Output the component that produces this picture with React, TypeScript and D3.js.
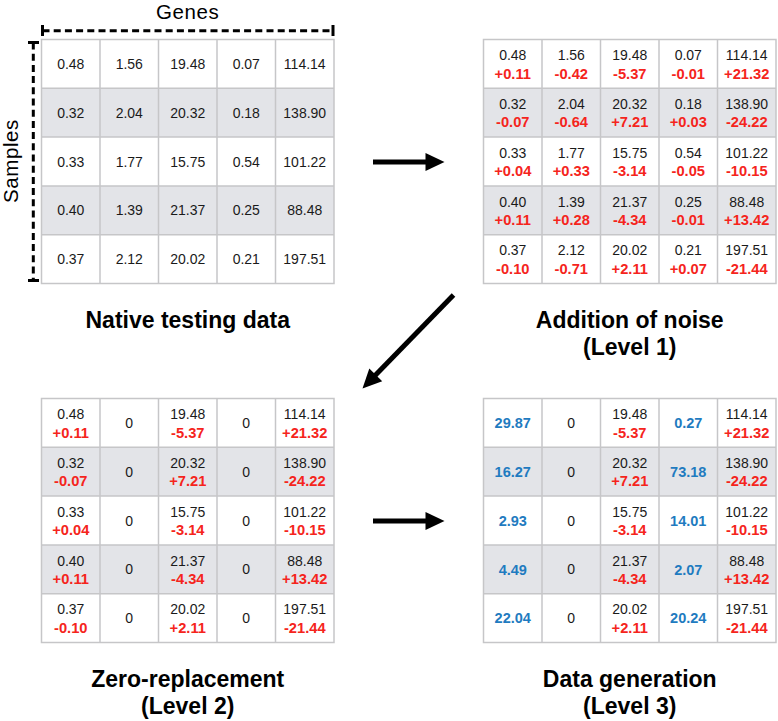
import React from "react";
import * as d3 from "d3";

const genes = ["G1", "G2", "G3", "G4", "G5"];
const samples = ["S1", "S2", "S3", "S4", "S5"];

const nativeValues: number[][] = [
  [0.48, 1.56, 19.48, 0.07, 114.14],
  [0.32, 2.04, 20.32, 0.18, 138.9],
  [0.33, 1.77, 15.75, 0.54, 101.22],
  [0.4, 1.39, 21.37, 0.25, 88.48],
  [0.37, 2.12, 20.02, 0.21, 197.51],
];

const noiseValues: number[][] = [
  [0.11, -0.42, -5.37, -0.01, 21.32],
  [-0.07, -0.64, 7.21, 0.03, -24.22],
  [0.04, 0.33, -3.14, -0.05, -10.15],
  [0.11, 0.28, -4.34, -0.01, 13.42],
  [-0.1, -0.71, 2.11, 0.07, -21.44],
];

const zeroColumns = [1, 3];

const generatedColumns = [0, 3];
const generatedValues: number[][] = [
  [29.87, 0.27],
  [16.27, 73.18],
  [2.93, 14.01],
  [4.49, 2.07],
  [22.04, 20.24],
];

const panelTitles = [
  ["Native testing data"],
  ["Addition of noise", "(Level 1)"],
  ["Zero-replacement", "(Level 2)"],
  ["Data generation", "(Level 3)"],
];

const FONT = "'Liberation Sans', Arial, Helvetica, sans-serif";
const BLACK = "#1a1a1a";
const RED = "#f5241c";
const BLUE = "#1f7bc0";
const GRID = "#c6c6c8";
const SHADE = "#e3e4e8";

const TW = 292.5;
const TH = 244;

type Cell = { lines: { text: string; color: string; bold: boolean }[] };

function fmt(v: number) {
  return v.toFixed(2);
}
function fmtSigned(v: number) {
  return (v >= 0 ? "+" : "-") + Math.abs(v).toFixed(2);
}

function buildCells(level: number): Cell[][] {
  return samples.map((_, r) =>
    genes.map((_, c) => {
      if (level >= 3 && generatedColumns.includes(c)) {
        const gi = generatedColumns.indexOf(c);
        return { lines: [{ text: fmt(generatedValues[r][gi]), color: BLUE, bold: true }] };
      }
      if (level >= 2 && zeroColumns.includes(c)) {
        return { lines: [{ text: "0", color: BLACK, bold: false }] };
      }
      if (level >= 1) {
        return {
          lines: [
            { text: fmt(nativeValues[r][c]), color: BLACK, bold: false },
            { text: fmtSigned(noiseValues[r][c]), color: RED, bold: true },
          ],
        };
      }
      return { lines: [{ text: fmt(nativeValues[r][c]), color: BLACK, bold: false }] };
    })
  );
}

function Table({ x0, y0, level, title }: { x0: number; y0: number; level: number; title: string[] }) {
  const xs = d3.scaleBand<string>().domain(genes).range([x0, x0 + TW]);
  const ys = d3.scaleBand<string>().domain(samples).range([y0, y0 + TH]);
  const cells = buildCells(level);
  const bw = xs.bandwidth();
  const bh = ys.bandwidth();
  return (
    <g>
      {samples.map((s, r) => (
        <rect key={"bg" + s} x={x0} y={ys(s)!} width={TW} height={bh} fill={r % 2 === 1 ? SHADE : "#ffffff"} />
      ))}
      {genes.map((g, i) =>
        i === 0 ? null : (
          <line key={"vl" + g} x1={xs(g)!} x2={xs(g)!} y1={y0} y2={y0 + TH} stroke={GRID} strokeWidth={1.5} />
        )
      )}
      {samples.map((s, i) =>
        i === 0 ? null : (
          <line key={"hl" + s} x1={x0} x2={x0 + TW} y1={ys(s)!} y2={ys(s)!} stroke={GRID} strokeWidth={1.5} />
        )
      )}
      <rect x={x0} y={y0} width={TW} height={TH} fill="none" stroke={GRID} strokeWidth={1.5} />
      {samples.map((s, r) =>
        genes.map((g, c) => {
          const cell = cells[r][c];
          const cx = xs(g)! + bw / 2;
          const cy = ys(s)! + bh / 2;
          if (cell.lines.length === 1) {
            const l = cell.lines[0];
            return (
              <text key={s + g} x={cx} y={cy} dy="0.36em" textAnchor="middle" fontFamily={FONT} fontSize={l.bold ? 14.5 : 14}
                fill={l.color} fontWeight={l.bold ? "bold" : "normal"}>
                {l.text}
              </text>
            );
          }
          return (
            <g key={s + g}>
              {cell.lines.map((l, k) => (
                <text key={k} x={cx} y={cy + (k === 0 ? -8.8 : 9.4)} dy="0.36em" textAnchor="middle" fontFamily={FONT}
                  fontSize={l.bold ? 14.7 : 14} fill={l.color} fontWeight={l.bold ? "bold" : "normal"}>
                  {l.text}
                </text>
              ))}
            </g>
          );
        })
      )}
      {title.map((t, i) => (
        <text key={t} x={x0 + TW / 2} y={y0 + TH + 44.5 + i * 27} textAnchor="middle" fontFamily={FONT}
          fontSize={23} fontWeight="bold" fill="#000">
          {t}
        </text>
      ))}
    </g>
  );
}

function Arrow({ x1, y1, x2, y2 }: { x1: number; y1: number; x2: number; y2: number }) {
  const dx = x2 - x1;
  const dy = y2 - y1;
  const len = Math.sqrt(dx * dx + dy * dy);
  const ux = dx / len;
  const uy = dy / len;
  const hl = 19;
  const hw = 9;
  const bx = x2 - ux * hl;
  const by = y2 - uy * hl;
  const px = -uy;
  const py = ux;
  const pts = [
    [x2, y2],
    [bx + px * hw, by + py * hw],
    [bx - px * hw, by - py * hw],
  ];
  return (
    <g>
      <line x1={x1} y1={y1} x2={bx + ux * 2} y2={by + uy * 2} stroke="#000" strokeWidth={5} />
      <polygon points={pts.map((p) => p.join(",")).join(" ")} fill="#000" />
    </g>
  );
}

export default function App() {
  const W = 778;
  const H = 721;
  const L = 41.5;
  const R = 483.5;
  const T = 39.5;
  const B = 398.5;
  return (
    <div style={{ position: "absolute", left: 0, top: 0 }}>
      <svg width={W} height={H} viewBox={`0 0 ${W} ${H}`} style={{ display: "block", background: "#fff" }}>
        <rect x={0} y={0} width={W} height={H} fill="#fff" />
        {/* Genes axis */}
        <text x={L + TW / 2} y={18.5} textAnchor="middle" fontFamily={FONT} fontSize={20.5} letterSpacing={0.6} fill="#000">
          Genes
        </text>
        <line x1={L + 1} x2={L + TW - 1} y1={30.7} y2={30.7} stroke="#000" strokeWidth={3} strokeDasharray="7,4.2" />
        <line x1={L + 1} x2={L + 1} y1={25} y2={36} stroke="#000" strokeWidth={3} />
        <line x1={L + TW - 1} x2={L + TW - 1} y1={25} y2={36} stroke="#000" strokeWidth={3} />
        {/* Samples axis */}
        <text transform={`translate(17.5,161) rotate(-90)`} textAnchor="middle" fontFamily={FONT} fontSize={20.5}
          letterSpacing={0.6} fill="#000">
          Samples
        </text>
        <line x1={33.3} x2={33.3} y1={42.5} y2={280.5} stroke="#000" strokeWidth={3} strokeDasharray="7,4.2" />
        <line x1={28} x2={39} y1={42.5} y2={42.5} stroke="#000" strokeWidth={3} />
        <line x1={28} x2={39} y1={280.5} y2={280.5} stroke="#000" strokeWidth={3} />

        <Table x0={L} y0={T} level={0} title={panelTitles[0]} />
        <Table x0={R} y0={T} level={1} title={panelTitles[1]} />
        <Table x0={L} y0={B} level={2} title={panelTitles[2]} />
        <Table x0={R} y0={B} level={3} title={panelTitles[3]} />

        <Arrow x1={373} y1={162} x2={444.5} y2={162} />
        <Arrow x1={453.5} y1={295} x2={362.5} y2={388.5} />
        <Arrow x1={373} y1={521} x2={444.5} y2={521} />
      </svg>
    </div>
  );
}
